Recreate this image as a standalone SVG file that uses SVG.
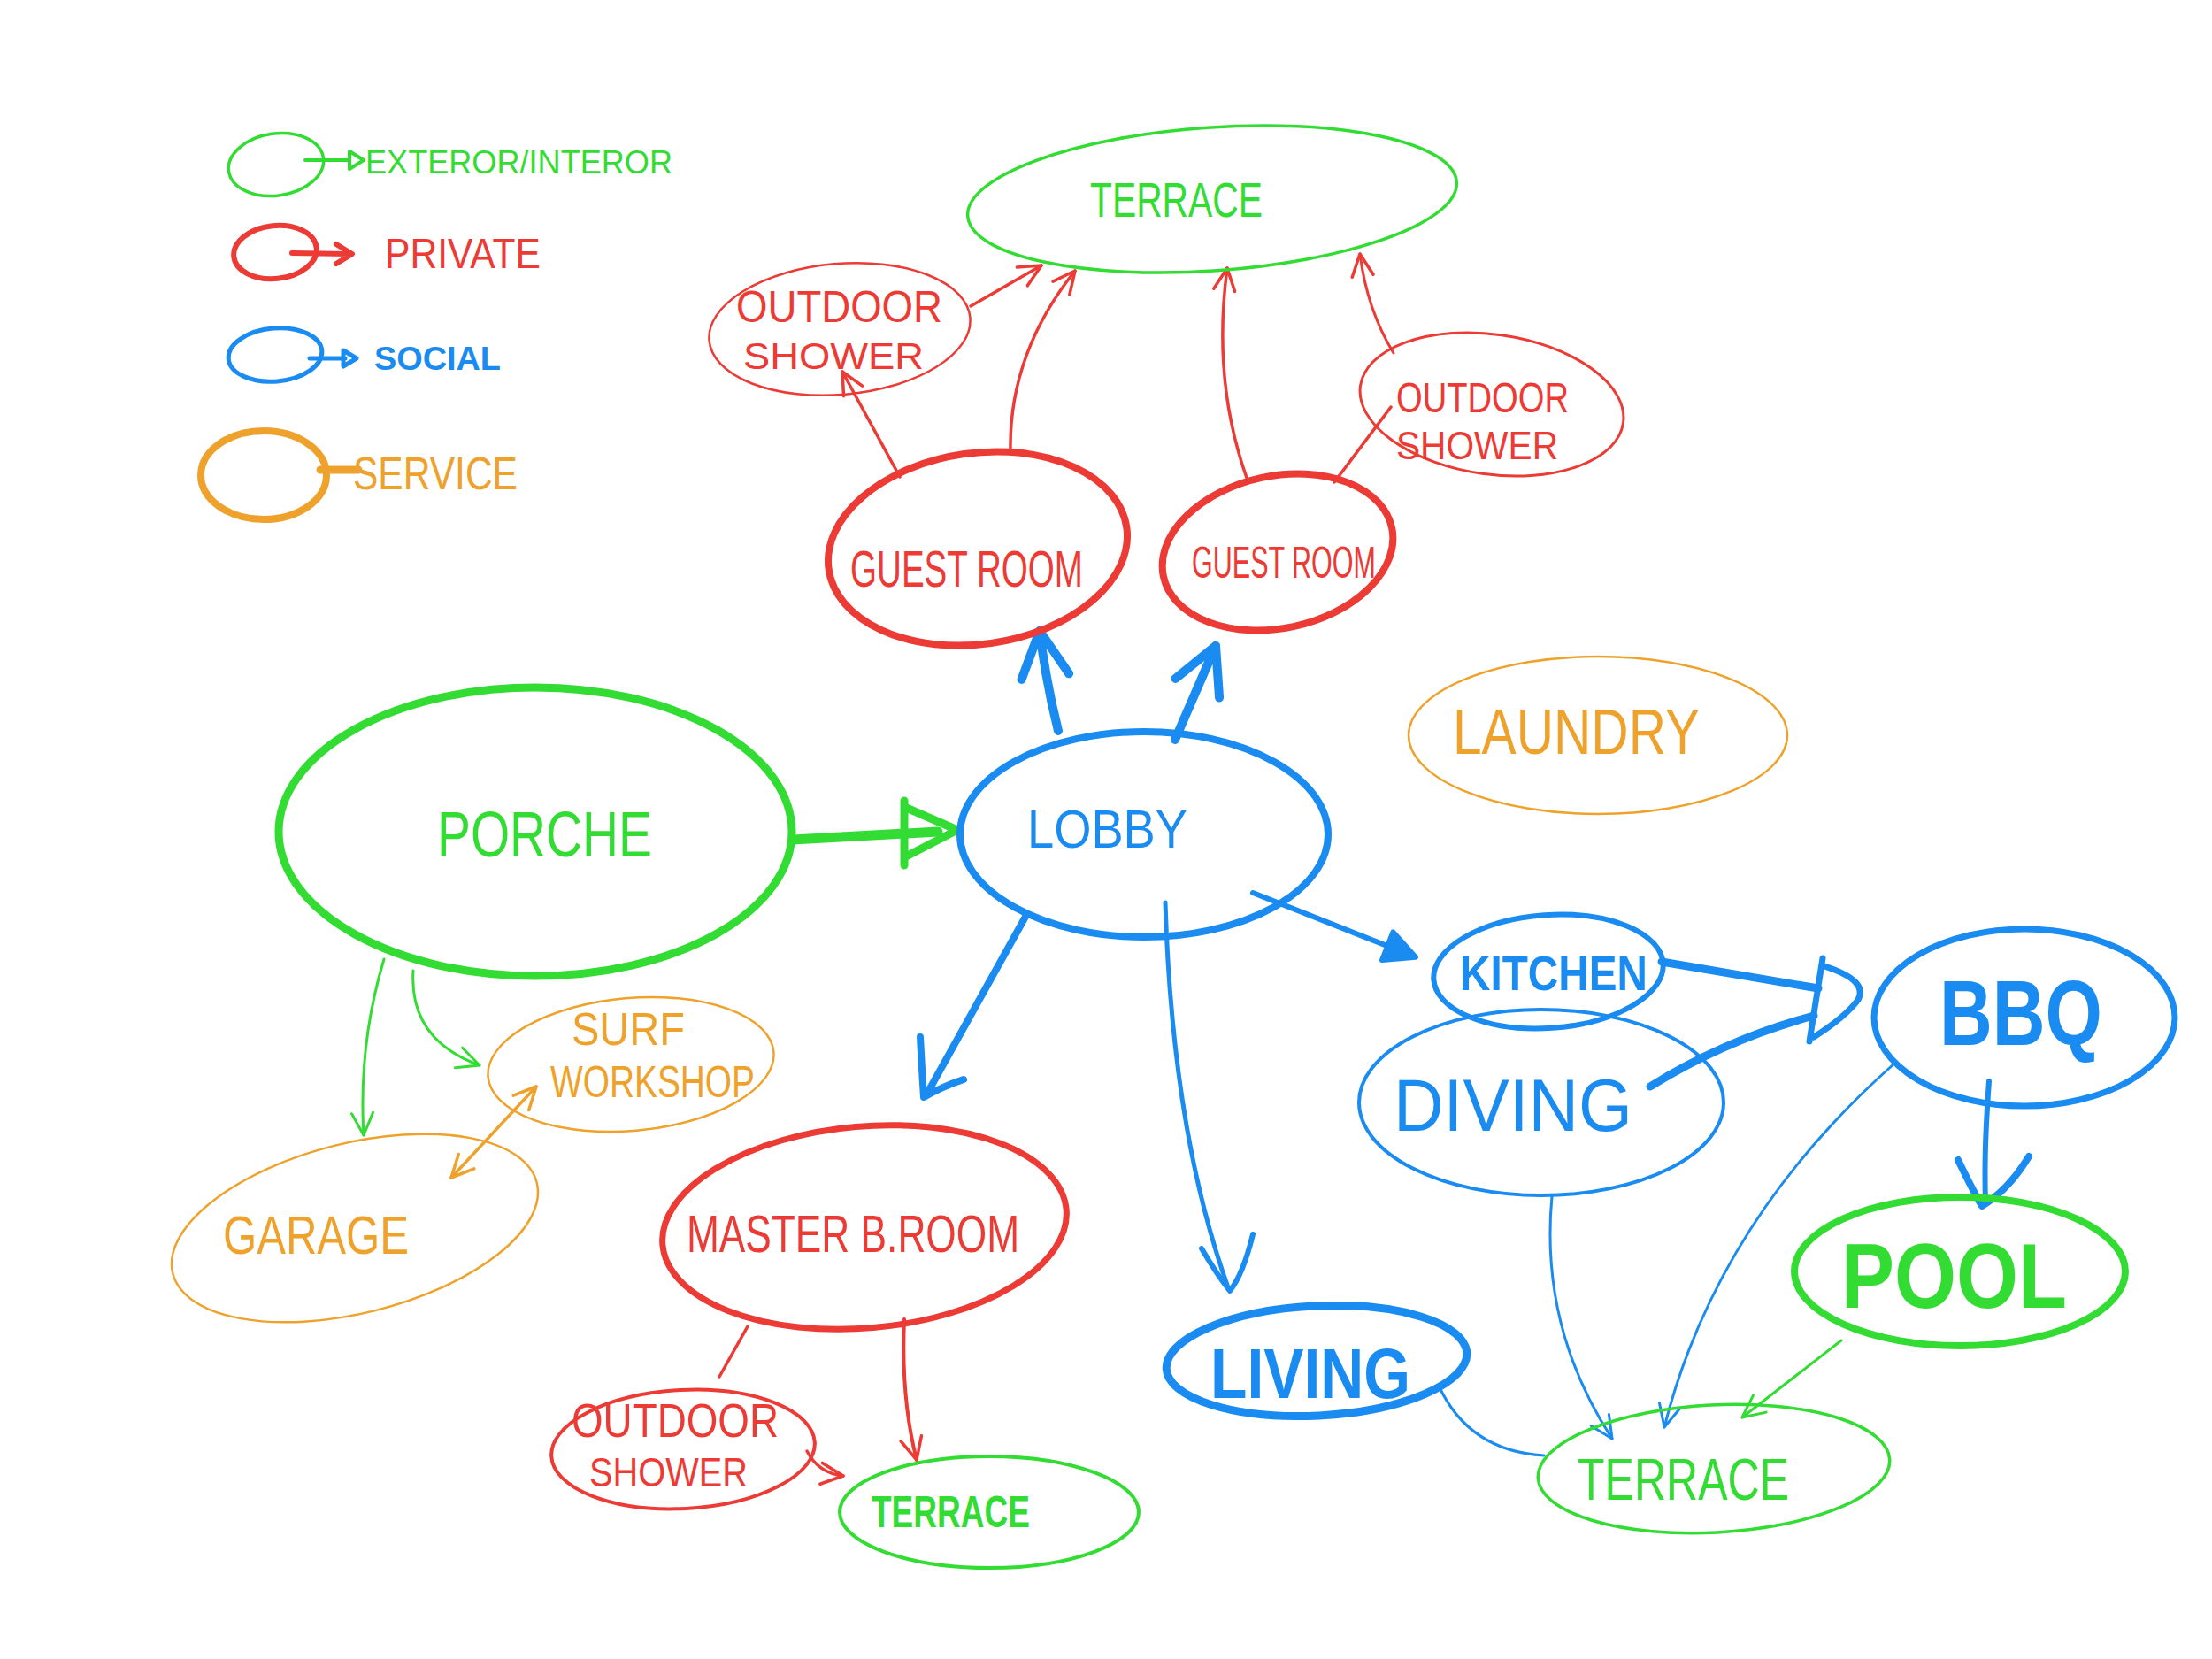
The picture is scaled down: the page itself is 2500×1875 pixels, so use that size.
<svg xmlns="http://www.w3.org/2000/svg" width="2500" height="1875" viewBox="0 0 2500 1875">
<style>
.g{stroke:#33dc33;fill:none}
.r{stroke:#ec3a35;fill:none}
.b{stroke:#1a8bf0;fill:none}
.o{stroke:#eea22c;fill:none}
.c{stroke-linecap:round;stroke-linejoin:round}
text{font-family:"Liberation Sans",Arial,sans-serif}
.tg{fill:#33dc33}
.tr{fill:#ec3a35}
.tb{fill:#1a8bf0}
.to{fill:#eea22c}
</style>
<defs>
<marker id="ag" markerUnits="userSpaceOnUse" markerWidth="32" markerHeight="32" viewBox="0 0 32 32" refX="29" refY="16" orient="auto"><path d="M4,4 L29,16 L4,28" fill="none" stroke="#33dc33" stroke-width="3" stroke-linecap="round" stroke-linejoin="round"/></marker>
<marker id="ar" markerUnits="userSpaceOnUse" markerWidth="32" markerHeight="32" viewBox="0 0 32 32" refX="29" refY="16" orient="auto"><path d="M4,4 L29,16 L4,28" fill="none" stroke="#ec3a35" stroke-width="3.5" stroke-linecap="round" stroke-linejoin="round"/></marker>
<marker id="ab" markerUnits="userSpaceOnUse" markerWidth="32" markerHeight="32" viewBox="0 0 32 32" refX="29" refY="16" orient="auto"><path d="M4,4 L29,16 L4,28" fill="none" stroke="#1a8bf0" stroke-width="3" stroke-linecap="round" stroke-linejoin="round"/></marker>
<marker id="ao" markerUnits="userSpaceOnUse" markerWidth="32" markerHeight="32" viewBox="0 0 32 32" refX="29" refY="16" orient="auto-start-reverse"><path d="M4,4 L29,16 L4,28" fill="none" stroke="#eea22c" stroke-width="3.5" stroke-linecap="round" stroke-linejoin="round"/></marker>
<marker id="abig" markerUnits="userSpaceOnUse" markerWidth="70" markerHeight="70" viewBox="0 0 70 70" refX="62" refY="35" orient="auto"><path d="M10,8 L62,35 L10,62" fill="none" stroke="#1a8bf0" stroke-width="10" stroke-linecap="round" stroke-linejoin="round"/></marker>
<marker id="atri" markerUnits="userSpaceOnUse" markerWidth="50" markerHeight="50" viewBox="0 0 50 50" refX="40" refY="25" orient="auto"><path d="M8,8 L42,25 L8,42 Z" fill="#1a8bf0" stroke="#1a8bf0" stroke-width="6" stroke-linejoin="round"/></marker>
</defs>

<g id="legend">
  <ellipse class="g" cx="312" cy="186" rx="54" ry="35" stroke-width="3.5" transform="rotate(-8 312 186)"/>
  <path class="g c" d="M345,181 L395,181 M395,171 L411,181 L395,191 Z" stroke-width="4"/>
  <text class="tg" x="413" y="196" font-size="36" textLength="347" lengthAdjust="spacingAndGlyphs">EXTEROR/INTEROR</text>
  <ellipse class="r" cx="311" cy="285" rx="47" ry="30" stroke-width="6" transform="rotate(-6 311 285)"/>
  <path class="r c" d="M330,286 L395,287 M380,276 L398,287 L380,298" stroke-width="6"/>
  <text class="tr" x="435" y="303" font-size="48" textLength="176" lengthAdjust="spacingAndGlyphs">PRIVATE</text>
  <ellipse class="b" cx="311" cy="401" rx="53" ry="30" stroke-width="5" transform="rotate(-5 311 401)"/>
  <path class="b c" d="M350,405 L390,405 M388,396 L403,405 L388,414 Z" stroke-width="5"/>
  <text class="tb" x="423" y="418" font-size="36" font-weight="bold" textLength="143" lengthAdjust="spacingAndGlyphs">SOCIAL</text>
  <ellipse class="o" cx="298" cy="537" rx="71" ry="50" stroke-width="8"/>
  <path class="o c" d="M362,531 L405,531" stroke-width="9"/>
  <text class="to" x="399" y="553" font-size="52" textLength="186" lengthAdjust="spacingAndGlyphs">SERVICE</text>
</g>

<g id="connectors">
  <path class="r c" d="M1017,539 Q985,480 952,420" stroke-width="3.5" marker-end="url(#ar)"/>
  <path class="r c" d="M1097,346 L1177,300" stroke-width="3.5" marker-end="url(#ar)"/>
  <path class="r c" d="M1142,510 Q1140,400 1215,306" stroke-width="3.5" marker-end="url(#ar)"/>
  <path class="r c" d="M1409,540 Q1370,430 1387,303" stroke-width="3.5" marker-end="url(#ar)"/>
  <path class="r c" d="M1575,399 Q1545,350 1537,287" stroke-width="3" marker-end="url(#ar)"/>
  <path class="r c" d="M1508,545 L1572,460" stroke-width="3.5"/>
  <path class="b c" d="M1196,826 Q1182,770 1175,713" stroke-width="10" marker-end="url(#abig)"/>
  <path class="b c" d="M1328,836 L1374,730" stroke-width="10" marker-end="url(#abig)"/>
  <path class="g c" d="M896,949 L1060,940" stroke-width="11"/>
  <path class="g c" d="M1022,905 L1022,978 M1022,912 L1082,938 L1024,968" stroke-width="9"/>
  <path class="b c" d="M1416,1009 L1598,1081" stroke-width="6" marker-end="url(#atri)"/>
  <path class="b c" d="M1878,1087 L2055,1117" stroke-width="9"/>
  <path class="b c" d="M1865,1228 Q1950,1175 2050,1148" stroke-width="9"/>
  <path class="b c" d="M2060,1083 L2045,1177 M2062,1092 Q2112,1108 2100,1130 Q2085,1150 2050,1172" stroke-width="7"/>
  <path class="b c" d="M2248,1222 Q2242,1300 2244,1358" stroke-width="6"/>
  <path class="b c" d="M2213,1311 Q2232,1350 2240,1363 Q2270,1345 2293,1307" stroke-width="8"/>
  <path class="b c" d="M1754,1352 Q1740,1500 1822,1626" stroke-width="3" marker-end="url(#ab)"/>
  <path class="b c" d="M2141,1202 Q1940,1380 1881,1613" stroke-width="3" marker-end="url(#ab)"/>
  <path class="g c" d="M2081,1515 L1969,1602" stroke-width="3" marker-end="url(#ag)"/>
  <path class="b c" d="M1626,1566 Q1660,1640 1745,1645" stroke-width="3"/>
  <path class="b c" d="M1317,1020 Q1325,1280 1388,1455" stroke-width="5"/>
  <path class="b c" d="M1358,1411 Q1375,1440 1390,1459 Q1405,1440 1416,1395" stroke-width="6"/>
  <path class="b c" d="M1159,1036 L1050,1232" stroke-width="8"/>
  <path class="b c" d="M1040,1172 Q1042,1210 1044,1240 Q1065,1228 1089,1220" stroke-width="8"/>
  <path class="r c" d="M845,1499 L813,1556" stroke-width="3.5"/>
  <path class="r c" d="M1022,1491 Q1018,1580 1036,1650" stroke-width="4" marker-end="url(#ar)"/>
  <path class="r c" d="M912,1640 Q925,1665 953,1668" stroke-width="3.5" marker-end="url(#ar)"/>
  <path class="g c" d="M434,1084 Q405,1180 411,1283" stroke-width="3" marker-end="url(#ag)"/>
  <path class="g c" d="M467,1097 Q462,1175 542,1204" stroke-width="3" marker-end="url(#ag)"/>
  <path class="o c" d="M510,1331 L606,1228" stroke-width="3.5" marker-start="url(#ao)" marker-end="url(#ao)"/>
</g>

<g id="terrace-top">
  <ellipse class="g" cx="1370" cy="225" rx="277" ry="81" stroke-width="3.5" transform="rotate(-4 1370 225)"/>
  <text class="tg" x="1232" y="245" font-size="56" textLength="195" lengthAdjust="spacingAndGlyphs">TERRACE</text>
</g>
<g id="outdoor-shower-1">
  <ellipse class="r" cx="949" cy="372" rx="148" ry="74" stroke-width="2.5" transform="rotate(-5 949 372)"/>
  <text class="tr" x="832" y="364" font-size="50" textLength="233" lengthAdjust="spacingAndGlyphs">OUTDOOR</text>
  <text class="tr" x="840" y="417" font-size="43" textLength="204" lengthAdjust="spacingAndGlyphs">SHOWER</text>
</g>
<g id="guest-room-1">
  <ellipse class="r" cx="1105" cy="620" rx="170" ry="108" stroke-width="8" transform="rotate(-8 1105 620)"/>
  <text class="tr" x="961" y="663" font-size="58" textLength="263" lengthAdjust="spacingAndGlyphs">GUEST ROOM</text>
</g>
<g id="guest-room-2">
  <ellipse class="r" cx="1444" cy="624" rx="132" ry="86" stroke-width="8" transform="rotate(-12 1444 624)"/>
  <text class="tr" x="1347" y="653" font-size="50" textLength="208" lengthAdjust="spacingAndGlyphs">GUEST ROOM</text>
</g>
<g id="outdoor-shower-2">
  <ellipse class="r" cx="1686" cy="457" rx="150" ry="79" stroke-width="3" transform="rotate(8 1686 457)"/>
  <text class="tr" x="1578" y="466" font-size="48" textLength="195" lengthAdjust="spacingAndGlyphs">OUTDOOR</text>
  <text class="tr" x="1578" y="519" font-size="44" textLength="183" lengthAdjust="spacingAndGlyphs">SHOWER</text>
</g>
<g id="porche">
  <ellipse class="g" cx="605" cy="940" rx="290" ry="163" stroke-width="9"/>
  <text class="tg" x="494" y="968" font-size="72" textLength="243" lengthAdjust="spacingAndGlyphs">PORCHE</text>
</g>
<g id="lobby">
  <ellipse class="b" cx="1293" cy="943" rx="208" ry="116" stroke-width="8"/>
  <text class="tb" x="1161" y="958" font-size="62" textLength="181" lengthAdjust="spacingAndGlyphs">LOBBY</text>
</g>
<g id="laundry">
  <ellipse class="o" cx="1806" cy="831" rx="214" ry="89" stroke-width="2.5"/>
  <text class="to" x="1642" y="852" font-size="72" textLength="279" lengthAdjust="spacingAndGlyphs">LAUNDRY</text>
</g>
<g id="kitchen">
  <ellipse class="b" cx="1750" cy="1098" rx="130" ry="64" stroke-width="6" transform="rotate(-4 1750 1098)"/>
  <text class="tb" x="1650" y="1119" font-size="56" font-weight="bold" textLength="212" lengthAdjust="spacingAndGlyphs">KITCHEN</text>
</g>
<g id="dining">
  <ellipse class="b" cx="1742" cy="1246" rx="206" ry="105" stroke-width="4"/>
  <text class="tb" x="1575" y="1278" font-size="84" textLength="270" lengthAdjust="spacingAndGlyphs">DIVING</text>
</g>
<g id="bbq">
  <ellipse class="b" cx="2288" cy="1150" rx="170" ry="100" stroke-width="7"/>
  <text class="tb" x="2192" y="1181" font-size="104" font-weight="bold" textLength="184" lengthAdjust="spacingAndGlyphs">BBQ</text>
</g>
<g id="pool">
  <ellipse class="g" cx="2215" cy="1437" rx="187" ry="84" stroke-width="8"/>
  <text class="tg" x="2081" y="1478" font-size="104" font-weight="bold" textLength="255" lengthAdjust="spacingAndGlyphs">POOL</text>
</g>
<g id="terrace-br">
  <ellipse class="g" cx="1937" cy="1660" rx="199" ry="72" stroke-width="3.5" transform="rotate(-3 1937 1660)"/>
  <text class="tg" x="1783" y="1695" font-size="66" textLength="239" lengthAdjust="spacingAndGlyphs">TERRACE</text>
</g>
<g id="living">
  <ellipse class="b" cx="1488" cy="1538" rx="170" ry="62" stroke-width="9" transform="rotate(-3 1488 1538)"/>
  <text class="tb" x="1368" y="1580" font-size="80" font-weight="bold" textLength="226" lengthAdjust="spacingAndGlyphs">LIVING</text>
</g>
<g id="master-bedroom">
  <ellipse class="r" cx="977" cy="1387" rx="229" ry="114" stroke-width="7" transform="rotate(-5 977 1387)"/>
  <text class="tr" x="776" y="1415" font-size="60" textLength="376" lengthAdjust="spacingAndGlyphs">MASTER B.ROOM</text>
</g>
<g id="outdoor-shower-3">
  <ellipse class="r" cx="772" cy="1638" rx="149" ry="67" stroke-width="4" transform="rotate(-3 772 1638)"/>
  <text class="tr" x="646" y="1624" font-size="54" textLength="234" lengthAdjust="spacingAndGlyphs">OUTDOOR</text>
  <text class="tr" x="666" y="1680" font-size="46" textLength="179" lengthAdjust="spacingAndGlyphs">SHOWER</text>
</g>
<g id="terrace-master">
  <ellipse class="g" cx="1118" cy="1709" rx="169" ry="63" stroke-width="4"/>
  <text class="tg" x="985" y="1726" font-size="50" font-weight="bold" textLength="179" lengthAdjust="spacingAndGlyphs">TERRACE</text>
</g>
<g id="surf-workshop">
  <ellipse class="o" cx="713" cy="1203" rx="162" ry="75" stroke-width="2.5" transform="rotate(-5 713 1203)"/>
  <text class="to" x="646" y="1181" font-size="52" textLength="128" lengthAdjust="spacingAndGlyphs">SURF</text>
  <text class="to" x="622" y="1240" font-size="50" textLength="231" lengthAdjust="spacingAndGlyphs">WORKSHOP</text>
</g>
<g id="garage">
  <ellipse class="o" cx="401" cy="1388" rx="212" ry="96" stroke-width="2.5" transform="rotate(-14 401 1388)"/>
  <text class="to" x="252" y="1417" font-size="62" textLength="210" lengthAdjust="spacingAndGlyphs">GARAGE</text>
</g>
</svg>
